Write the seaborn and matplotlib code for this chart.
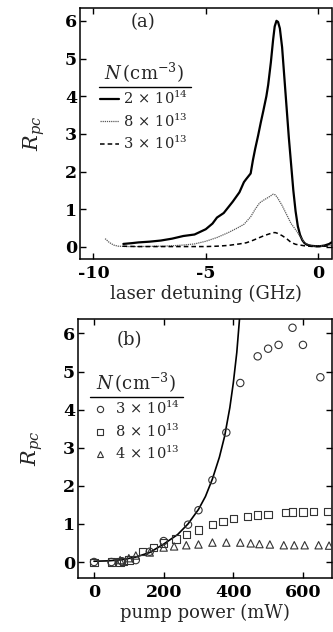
import matplotlib
matplotlib.use("Agg")
import matplotlib.pyplot as plt
from matplotlib.lines import Line2D
import seaborn as sns
import pandas as pd

# ---------------- data: panel (a) ----------------
det_hi = [-8.67, -8.3, -8.0, -7.5, -7.0, -6.5, -6.0, -5.5, -5.0, -4.7, -4.5, -4.2, -4.0,
          -3.8, -3.5, -3.3, -3.2, -3.0, -2.9, -2.8, -2.67, -2.55, -2.44, -2.3, -2.22,
          -2.1, -2.0, -1.93, -1.85, -1.78, -1.7, -1.6, -1.5, -1.4, -1.3, -1.2, -1.1,
          -1.0, -0.9, -0.8, -0.7, -0.6, -0.5, -0.3, -0.1, 0.1, 0.3, 0.5, 0.6]
rpc_hi = [0.08, 0.10, 0.12, 0.14, 0.17, 0.22, 0.29, 0.33, 0.47, 0.62, 0.78, 0.90, 1.05,
          1.20, 1.45, 1.72, 1.80, 1.95, 2.30, 2.60, 2.95, 3.30, 3.60, 4.00, 4.30,
          4.90, 5.50, 5.85, 6.00, 5.97, 5.80, 5.30, 4.50, 3.70, 2.90, 2.20, 1.50,
          0.95, 0.55, 0.32, 0.18, 0.10, 0.06, 0.03, 0.02, 0.02, 0.04, 0.08, 0.12]

det_mid = [-9.48, -9.3, -9.1, -8.9, -8.5, -8.0, -7.0, -6.5, -6.0, -5.5, -5.0, -4.5, -4.0,
           -3.6, -3.3, -3.0, -2.8, -2.6, -2.4, -2.2, -2.0, -1.9, -1.8, -1.6, -1.4, -1.2,
           -1.0, -0.8, -0.6, -0.4, -0.2, 0.0, 0.3, 0.6]
rpc_mid = [0.22, 0.12, 0.05, 0.02, 0.01, 0.01, 0.02, 0.03, 0.05, 0.08, 0.15, 0.25, 0.38,
           0.50, 0.60, 0.80, 1.00, 1.17, 1.25, 1.32, 1.40, 1.38, 1.30, 1.10, 0.86, 0.62,
           0.46, 0.28, 0.12, 0.05, 0.02, 0.02, 0.03, 0.05]

det_lo = [-8.7, -8.0, -7.0, -6.0, -5.0, -4.5, -4.0, -3.5, -3.2, -3.0, -2.8, -2.6, -2.4,
          -2.2, -2.0, -1.9, -1.8, -1.6, -1.4, -1.2, -1.0, -0.8, -0.6, -0.4, -0.2, 0.0,
          0.3, 0.6]
rpc_lo = [0.02, 0.01, 0.01, 0.01, 0.01, 0.02, 0.04, 0.08, 0.11, 0.15, 0.20, 0.25, 0.30,
          0.34, 0.38, 0.38, 0.36, 0.30, 0.22, 0.12, 0.07, 0.05, 0.03, 0.02, 0.01, 0.01,
          0.02, 0.03]

labels_a = [r"$2\,\times\,10^{14}$", r"$8\,\times\,10^{13}$", r"$3\,\times\,10^{13}$"]

# ---------------- data: panel (b) ----------------
pow_c = [0, 50, 80, 120, 160, 200, 270, 300, 340, 380, 420, 470, 500, 530, 570, 600, 650]
rpc_c = [0.0, 0.0, 0.02, 0.05, 0.27, 0.55, 0.98, 1.36, 2.15, 3.40, 4.70, 5.40, 5.60,
         5.70, 6.15, 5.70, 4.85]

pow_s = [0, 50, 75, 85, 100, 140, 170, 200, 235, 265, 300, 340, 370, 400, 440, 470,
         500, 550, 570, 600, 630, 670]
rpc_s = [-0.02, 0.0, 0.0, 0.02, 0.05, 0.27, 0.38, 0.50, 0.60, 0.72, 0.84, 0.99, 1.07,
         1.14, 1.19, 1.23, 1.25, 1.30, 1.31, 1.31, 1.33, 1.33]

pow_t = [75, 100, 120, 160, 200, 230, 265, 300, 340, 380, 420, 450, 475, 505, 545, 575,
         605, 645, 675]
rpc_t = [0.05, 0.10, 0.17, 0.25, 0.38, 0.41, 0.44, 0.46, 0.51, 0.51, 0.51, 0.49, 0.47,
         0.46, 0.44, 0.44, 0.44, 0.44, 0.43]

pow_fit = [0, 40, 80, 120, 160, 200, 240, 270, 300, 320, 340, 360, 375, 390, 400, 410,
           418, 425]
rpc_fit = [0.02, 0.03, 0.06, 0.13, 0.25, 0.47, 0.72, 1.00, 1.38, 1.72, 2.18, 2.75, 3.30,
           4.05, 4.70, 5.50, 6.40, 7.20]

labels_b = [r"$3\,\times\,10^{14}$", r"$8\,\times\,10^{13}$", r"$4\,\times\,10^{13}$"]

# ---------------- style ----------------
sns.set_theme(style="ticks")
plt.rcParams["font.family"] = ["DejaVu Serif"]
plt.rcParams["mathtext.fontset"] = "dejavuserif"
plt.rcParams.update({
    "axes.linewidth": 1.1,
    "xtick.direction": "in", "ytick.direction": "in",
    "xtick.top": True, "ytick.right": True,
    "xtick.major.size": 4, "ytick.major.size": 4,
    "xtick.major.width": 1.0, "ytick.major.width": 1.0,
    "xtick.major.pad": 4, "ytick.major.pad": 2,
    "axes.edgecolor": "black",
    "xtick.color": "black", "ytick.color": "black",
})

fig = plt.figure(figsize=(3.33, 6.32), dpi=100)
ax_a = fig.add_axes([80 / 333, 1 - 259 / 632, 251.5 / 333, 251 / 632])
ax_b = fig.add_axes([78 / 333, 1 - 578 / 632, 253.5 / 333, 259 / 632])

# ---------------- panel (a) ----------------
sns.lineplot(x=det_hi, y=rpc_hi, ax=ax_a, color="black", lw=1.6, estimator=None)
sns.lineplot(x=det_mid, y=rpc_mid, ax=ax_a, color="0.35", lw=0.9, estimator=None,
             linestyle=(0, (1, 0.7)))
sns.lineplot(x=det_lo, y=rpc_lo, ax=ax_a, color="black", lw=1.1, estimator=None,
             linestyle=(0, (3, 2)))

ax_a.set_xlim(-10.6, 0.6)
ax_a.set_ylim(-0.32, 6.34)
ax_a.set_xticks([-10, -5, 0])
ax_a.set_xticklabels(["-10", "-5", "0"])
ax_a.set_yticks(range(0, 7))
ax_a.set_xlabel("laser detuning (GHz)", fontsize=13, labelpad=2)
ax_a.set_ylabel(r"$R_{pc}$", fontsize=15, labelpad=13)
ax_a.text(0.25, 0.944, "(a)", transform=ax_a.transAxes, fontsize=13,
          ha="center", va="center")

h_a = [Line2D([], [], color="black", lw=1.6),
       Line2D([], [], color="0.35", lw=0.9, linestyle=(0, (1, 0.7))),
       Line2D([], [], color="black", lw=1.1, linestyle=(0, (3, 2)))]
leg_a = ax_a.legend(h_a, labels_a, title=r"$N\,$(cm$^{-3}$)", loc="upper left",
                    bbox_to_anchor=(0.08, 0.79), frameon=False, fontsize=10.5,
                    title_fontsize=13, handlelength=1.3, handletextpad=0.3,
                    labelspacing=0.35, borderpad=0, borderaxespad=0)

# ---------------- panel (b) ----------------
sns.lineplot(x=pow_fit, y=rpc_fit, ax=ax_b, color="black", lw=1.2, estimator=None)
mk = dict(facecolor="none", edgecolor="0.2", linewidth=0.8, s=28, zorder=3)
sns.scatterplot(x=pow_c, y=rpc_c, ax=ax_b, marker="o", **mk)
sns.scatterplot(x=pow_s, y=rpc_s, ax=ax_b, marker="s", **mk)
sns.scatterplot(x=pow_t, y=rpc_t, ax=ax_b, marker="^", **mk)

ax_b.set_xlim(-46, 682)
ax_b.set_ylim(-0.42, 6.38)
ax_b.set_xticks([0, 200, 400, 600])
ax_b.set_yticks(range(0, 7))
ax_b.set_xlabel("pump power (mW)", fontsize=13, labelpad=2)
ax_b.set_ylabel(r"$R_{pc}$", fontsize=15, labelpad=13)
ax_b.text(0.204, 0.919, "(b)", transform=ax_b.transAxes, fontsize=13,
          ha="center", va="center")

h_b = [Line2D([], [], ls="", marker=m, mfc="none", mec="0.2", mew=0.8, ms=4.5)
       for m in ["o", "s", "^"]]
leg_b = ax_b.legend(h_b, labels_b, title=r"$N\,$(cm$^{-3}$)", loc="upper left",
                    bbox_to_anchor=(0.05, 0.80), frameon=False, fontsize=10.5,
                    title_fontsize=13, handlelength=1.3, handletextpad=0.4,
                    labelspacing=0.35, borderpad=0, borderaxespad=0)

for ax in (ax_a, ax_b):
    for lab in ax.get_xticklabels() + ax.get_yticklabels():
        lab.set_fontsize(12.5)
        lab.set_fontweight("bold")

# underline under the legend titles
fig.canvas.draw()
inv = fig.transFigure.inverted()
for leg in (leg_a, leg_b):
    tb = leg.get_title().get_window_extent()
    lb = leg.get_window_extent()
    x0, x1 = lb.x0 - 1, max(lb.x1, tb.x1) + 2
    yy = tb.y0 - 2
    (fx0, fy), (fx1, _) = inv.transform([(x0, yy), (x1, yy)])
    fig.add_artist(Line2D([fx0, fx1], [fy, fy], color="black", lw=1.0))

fig.savefig("out.png", dpi=100)
